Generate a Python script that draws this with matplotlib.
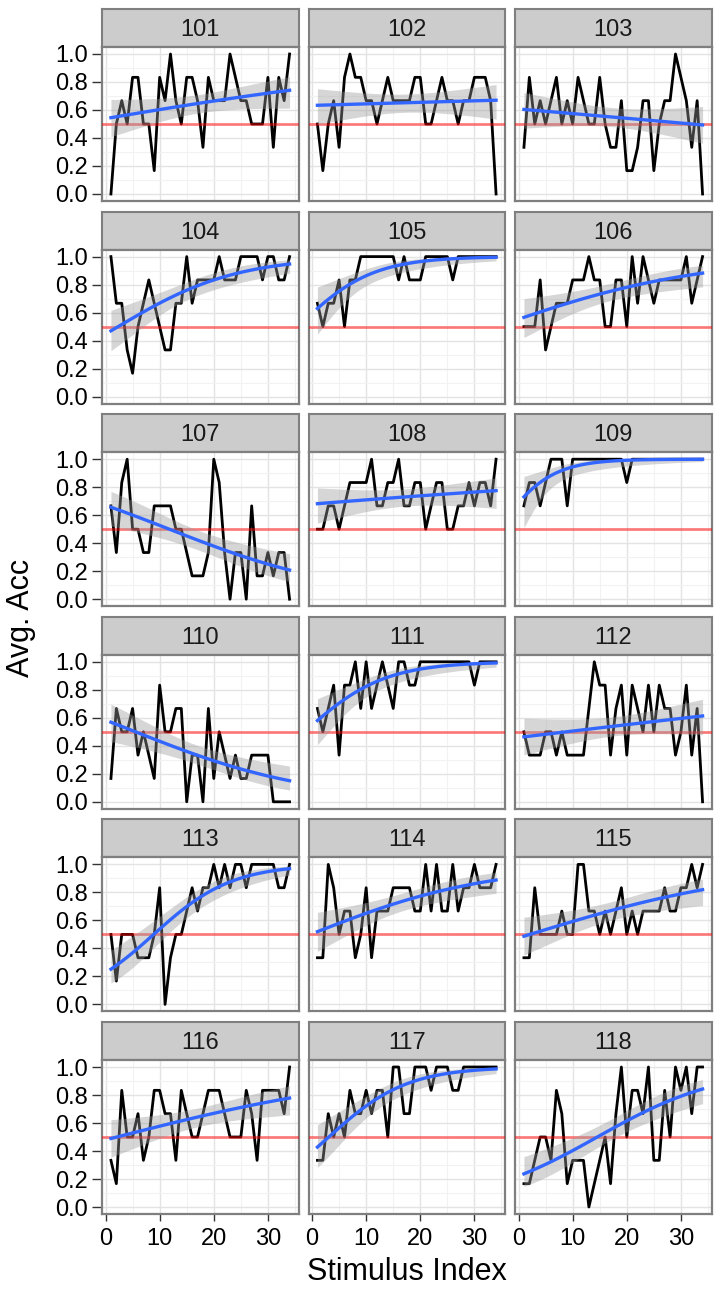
import numpy as np
import matplotlib
matplotlib.use("Agg")
from matplotlib import pyplot as plt

plt.rcParams['font.family'] = ['Liberation Sans', 'DejaVu Sans']

n_trials = 6
stim_index = np.arange(1, 35)
subjects = list(range(101, 119))

# correct responses (out of n_trials) for each stimulus, per subject
correct_101 = [0, 3, 4, 3, 5, 5, 3, 3, 1, 5, 4, 6, 4, 3, 5, 5, 4, 2, 5, 4, 4, 4, 6, 5, 4, 4, 3, 3, 3, 5, 2, 5, 4, 6]
correct_102 = [3, 1, 3, 4, 2, 5, 6, 5, 5, 4, 4, 3, 4, 5, 4, 4, 4, 4, 5, 5, 3, 3, 4, 5, 4, 4, 3, 4, 4, 5, 5, 5, 4, 0]
correct_103 = [2, 5, 3, 4, 3, 4, 5, 3, 4, 3, 5, 4, 3, 3, 5, 3, 2, 2, 4, 1, 1, 2, 4, 4, 1, 3, 4, 4, 6, 5, 4, 2, 4, 0]
correct_104 = [6, 4, 4, 2, 1, 3, 4, 5, 4, 3, 2, 2, 4, 4, 6, 4, 5, 5, 5, 5, 6, 5, 5, 5, 6, 6, 6, 6, 5, 6, 6, 5, 5, 6]
correct_105 = [4, 3, 4, 4, 5, 3, 5, 5, 6, 6, 6, 6, 6, 6, 6, 5, 6, 5, 5, 5, 6, 6, 6, 6, 6, 5, 6, 6, 6, 6, 6, 6, 6, 6]
correct_106 = [3, 3, 3, 5, 2, 3, 4, 4, 4, 5, 5, 5, 6, 5, 5, 3, 3, 5, 5, 3, 6, 4, 6, 5, 4, 5, 5, 5, 5, 5, 6, 4, 5, 6]
correct_107 = [4, 2, 5, 6, 3, 3, 2, 2, 4, 4, 4, 4, 3, 3, 2, 1, 1, 1, 2, 6, 5, 2, 0, 2, 2, 0, 4, 1, 1, 2, 1, 2, 2, 0]
correct_108 = [3, 3, 4, 4, 3, 4, 5, 5, 5, 5, 6, 4, 4, 5, 5, 6, 4, 4, 5, 5, 3, 4, 5, 5, 3, 3, 4, 4, 5, 4, 5, 5, 4, 6]
correct_109 = [4, 5, 5, 4, 5, 6, 6, 6, 4, 6, 6, 6, 6, 6, 6, 6, 6, 6, 6, 5, 6, 6, 6, 6, 6, 6, 6, 6, 6, 6, 6, 6, 6, 6]
correct_110 = [1, 4, 3, 3, 4, 2, 3, 2, 1, 5, 3, 3, 4, 4, 0, 2, 2, 0, 4, 1, 3, 2, 1, 2, 1, 1, 2, 2, 2, 2, 0, 0, 0, 0]
correct_111 = [4, 3, 4, 5, 2, 5, 5, 6, 4, 6, 4, 5, 6, 5, 4, 6, 6, 5, 5, 6, 6, 6, 6, 6, 6, 6, 6, 6, 6, 5, 6, 6, 6, 6]
correct_112 = [3, 2, 2, 2, 3, 3, 2, 3, 2, 2, 2, 2, 4, 6, 5, 5, 2, 4, 5, 2, 5, 4, 3, 5, 3, 5, 4, 4, 2, 3, 5, 2, 4, 0]
correct_113 = [3, 1, 3, 3, 3, 2, 2, 2, 3, 5, 0, 2, 3, 3, 4, 5, 4, 5, 5, 6, 5, 6, 5, 6, 6, 5, 6, 6, 6, 6, 6, 5, 5, 6]
correct_114 = [2, 2, 6, 5, 3, 4, 4, 2, 3, 5, 2, 4, 4, 4, 5, 5, 5, 5, 4, 4, 6, 4, 6, 4, 4, 6, 4, 5, 5, 6, 5, 5, 5, 6]
correct_115 = [2, 2, 5, 3, 3, 3, 3, 4, 3, 3, 6, 6, 4, 4, 3, 4, 3, 4, 5, 3, 4, 3, 4, 4, 4, 4, 5, 4, 4, 5, 5, 6, 5, 6]
correct_116 = [2, 1, 5, 3, 3, 4, 2, 3, 5, 5, 4, 4, 2, 5, 4, 3, 3, 4, 5, 5, 5, 4, 3, 3, 3, 5, 4, 2, 5, 5, 5, 5, 4, 6]
correct_117 = [2, 2, 4, 3, 4, 3, 5, 4, 4, 5, 4, 5, 5, 3, 6, 6, 4, 4, 6, 6, 6, 5, 6, 6, 6, 5, 5, 6, 6, 6, 6, 6, 6, 6]
correct_118 = [1, 1, 2, 3, 3, 2, 5, 4, 1, 2, 2, 2, 0, 1, 2, 3, 1, 4, 6, 3, 5, 5, 4, 6, 2, 2, 5, 3, 6, 5, 6, 4, 6, 6]

correct_by_subject = [correct_101, correct_102, correct_103, correct_104, correct_105, correct_106,
                      correct_107, correct_108, correct_109, correct_110, correct_111, correct_112,
                      correct_113, correct_114, correct_115, correct_116, correct_117, correct_118]

chance = 0.5


def expit(v):
    return 1.0 / (1.0 + np.exp(-v))


def logistic_smooth(x, k, n, grid, z=1.96):
    # binomial glm (logit link) fitted by IRLS, with a 95% band on the link scale
    X = np.column_stack([np.ones_like(x), x])
    beta = np.zeros(2)
    for _ in range(100):
        p = expit(X @ beta)
        w = n * p * (1 - p)
        zz = X @ beta + (k - n * p) / w
        new = np.linalg.solve(X.T @ (w[:, None] * X), X.T @ (w * zz))
        done = np.allclose(new, beta, atol=1e-10)
        beta = new
        if done:
            break
    p = expit(X @ beta)
    w = n * p * (1 - p)
    cov = np.linalg.inv(X.T @ (w[:, None] * X))
    G = np.column_stack([np.ones_like(grid), grid])
    eta = G @ beta
    se = np.sqrt(np.einsum('ij,jk,ik->i', G, cov, G))
    return expit(eta), expit(eta - z * se), expit(eta + z * se)


W, H = 719, 1290
fig = plt.figure(figsize=(W / 100, H / 100), dpi=100)

col_left = [102, 308.5, 515]
panel_w = 196.5
strip_h = 38
panel_h = 154
row_pitch = 202.6
top0 = 9

border = '#7F7F7F'
grid = np.linspace(1, 34, 80)

for i, (subj, counts) in enumerate(zip(subjects, correct_by_subject)):
    r, c = divmod(i, 3)
    left = col_left[c]
    s_top = top0 + r * row_pitch
    p_top = s_top + strip_h

    # facet strip
    sax = fig.add_axes([left / W, 1 - (s_top + strip_h) / H, panel_w / W, strip_h / H])
    sax.set_facecolor('#CCCCCC')
    sax.set_xticks([])
    sax.set_yticks([])
    for sp in sax.spines.values():
        sp.set_color(border)
        sp.set_linewidth(1.5)
    sax.text(0.5, 0.45, str(subj), ha='center', va='center', fontsize=17, color='#1A1A1A',
             transform=sax.transAxes)

    ax = fig.add_axes([left / W, 1 - (p_top + panel_h) / H, panel_w / W, panel_h / H])
    k = np.asarray(counts, dtype=float)
    acc = k / n_trials

    ax.plot(stim_index, acc, color='black', lw=2.0, zorder=3)
    ax.axhline(chance, color='red', alpha=0.5, lw=2.0, zorder=4)
    fit, lo, hi = logistic_smooth(stim_index.astype(float), k, n_trials, grid)
    ax.fill_between(grid, lo, hi, color='#999999', alpha=0.4, lw=0, zorder=5)
    ax.plot(grid, fit, color='#3366FF', lw=2.4, zorder=6)

    ax.set_xlim(-0.65, 35.65)
    ax.set_ylim(-0.05, 1.05)
    ax.set_xticks([0, 10, 20, 30])
    ax.set_xticks([5, 15, 25, 35], minor=True)
    ax.set_yticks(np.arange(0, 1.01, 0.2))
    ax.set_yticks(np.arange(0.1, 1.0, 0.2), minor=True)
    ax.grid(which='major', color='#E3E3E3', lw=1.0, zorder=0)
    ax.grid(which='minor', color='#F2F2F2', lw=0.8, zorder=0)
    ax.set_axisbelow(True)
    for sp in ax.spines.values():
        sp.set_color(border)
        sp.set_linewidth(1.6)

    ax.tick_params(which='minor', length=0)
    ax.tick_params(axis='y', which='major', length=7, width=1, color='#333333',
                   labelsize=17, pad=3, left=(c == 0), labelleft=(c == 0))
    ax.tick_params(axis='x', which='major', length=5, width=1, color='#333333',
                   labelsize=17, pad=5, bottom=(r == 5), labelbottom=(r == 5))
    ax.set_yticklabels(['0.0', '0.2', '0.4', '0.6', '0.8', '1.0'])

fig.text(407 / W, 1 - 1272 / H, 'Stimulus Index', ha='center', va='center', fontsize=22)
fig.text(21 / W, 1 - 618 / H, 'Avg. Acc', ha='center', va='center', rotation=90, fontsize=22)

fig.savefig('out.png', dpi=100)
